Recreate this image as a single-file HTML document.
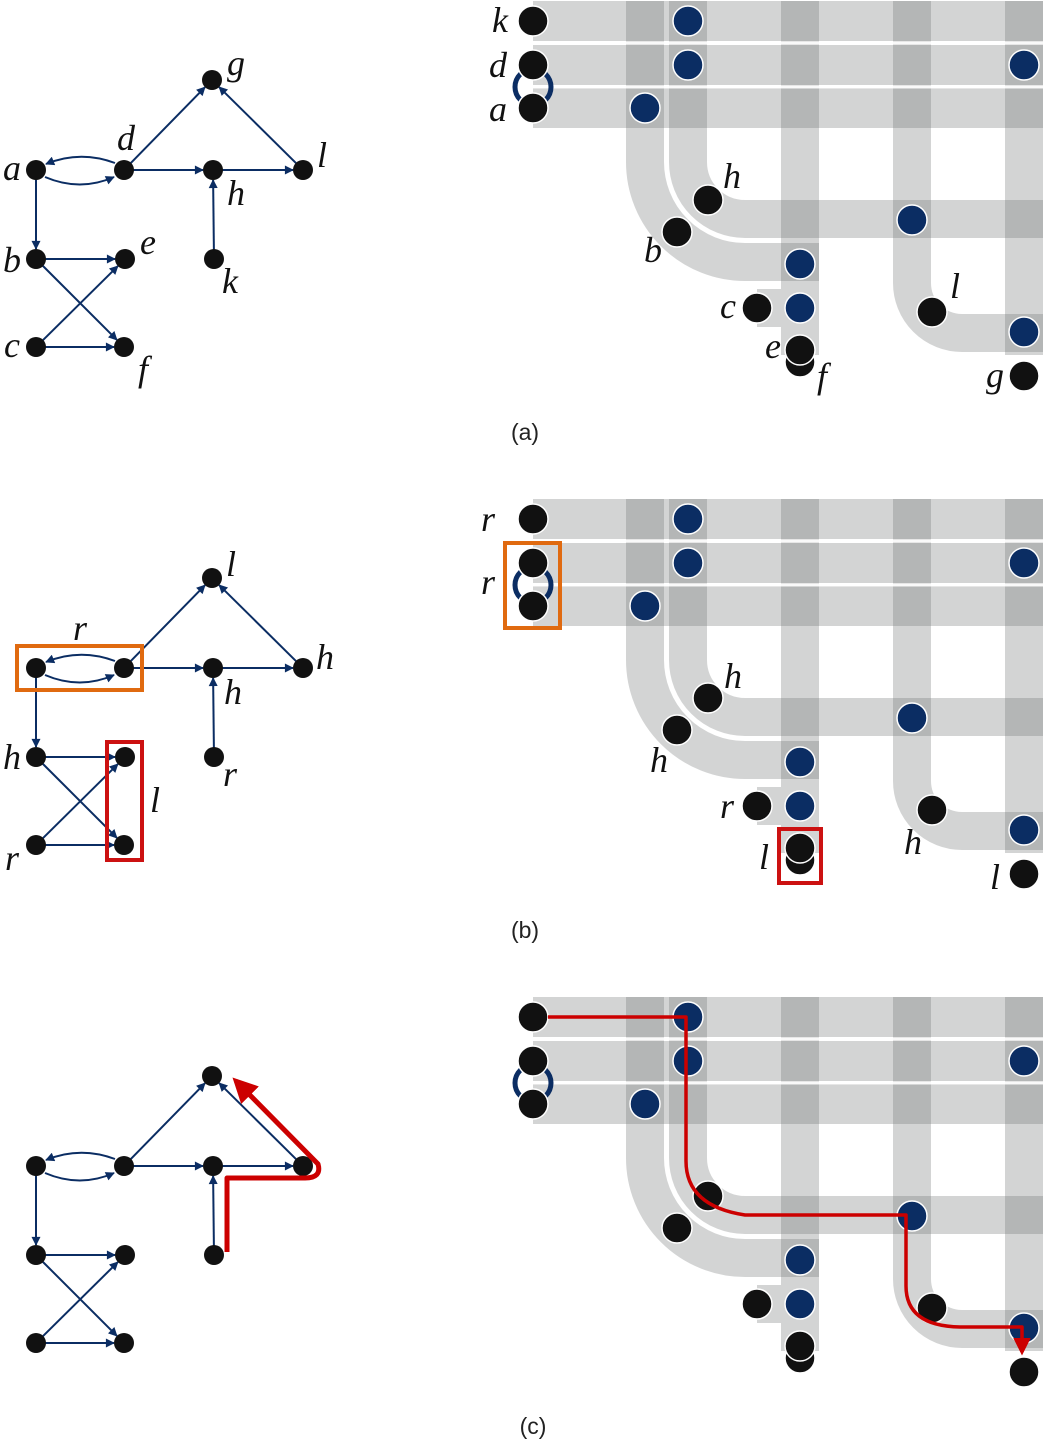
<!DOCTYPE html>
<html><head><meta charset="utf-8"><style>
html,body{margin:0;padding:0;background:#fff;}
svg{display:block;}
.lbl{font-family:"Liberation Serif",serif;font-style:italic;font-size:36px;fill:#111;}
.cap{font-family:"Liberation Sans",sans-serif;font-size:23px;fill:#222;}
</style></head><body>
<svg id="fig" width="1050" height="1451" viewBox="0 0 1050 1451" xmlns="http://www.w3.org/2000/svg">
<defs>
<marker id="arr" viewBox="0 0 10 10" refX="9" refY="5" markerWidth="11" markerHeight="9" orient="auto-start-reverse" markerUnits="userSpaceOnUse"><path d="M0,0 L10,5 L0,10 z" fill="#0b2d63"/></marker>
<marker id="arrR" viewBox="0 0 10 10" refX="8" refY="5" markerWidth="5" markerHeight="5" orient="auto"><path d="M0,0 L10,5 L0,10 z" fill="#cc0000"/></marker>
</defs>
</svg>
<script>
const panelOffsets=[0,498,996];
const captions=["(a)","(b)","(c)"];
const captionX=[525,525,533];
const captionY=[440,938,1434];
const gNodes=[["a",36,170],["d",124,170],["g",212,80],["h",213,170],["l",303,170],["b",36,259],["e",125,259],["k",214,259],["c",36,347],["f",124,347]];
const gEdges=[["d","g"],["d","h"],["h","l"],["l","g"],["k","h"],["a","b"],["b","e"],["b","f"],["c","e"],["c","f"]];
const gLabelsA=[["a",12,180],["d",126,150],["g",236,75],["l",322,167],["h",236,205],["e",148,254],["k",230,293],["b",12,272],["c",12,357],["f",143,381]];
const gLabelsB=[["r",80,640],["l",231,576],["h",325,669],["h",233,704],["h",12,769],["r",230,786],["l",155,812],["r",12,870]];
const rowsY=[21,65,108];
const blueA=[[688,21],[688,65],[1024,65],[645,108],[912,220],[800,264],[800,308],[1024,332]];
const blackA=[[800,362],[533,21],[533,65],[533,108],[708,200],[677,232],[757,308],[800,350],[932,312],[1024,376]];
const rLabelsA=[["k",500,32],["d",498,77],["a",498,121],["h",732,188],["b",653,262],["c",728,318],["e",773,358],["f",822,388],["l",955,298],["g",995,387]];
const rLabelsB=[["r",488,531],["r",488,594],["h",733,688],["h",659,772],["r",727,818],["l",764,869],["h",913,854],["l",995,889]];

const svg=document.getElementById('fig');
const NS="http://www.w3.org/2000/svg";
function mk(tag,attrs,parent){const e=document.createElementNS(NS,tag);for(const k in attrs)e.setAttribute(k,attrs[k]);(parent||svg).appendChild(e);return e;}
function txt(s,x,y,cls,anchor){const t=mk('text',{x:x,y:y,class:cls,'text-anchor':anchor||'start'});t.textContent=s;return t;}

panelOffsets.forEach((dy,pi)=>{
  const g=mk('g',{transform:'translate(0,'+dy+')'});
  
  
  const lg=mk('g',{},g);
  
  
  const pos={};gNodes.forEach(n=>pos[n[0]]=[n[1],n[2]]);
  gEdges.forEach(e=>{
    const [x1,y1]=pos[e[0]],[x2,y2]=pos[e[1]];
    const L=Math.hypot(x2-x1,y2-y1),ux=(x2-x1)/L,uy=(y2-y1)/L;
    const ln=mk('line',{x1:x1+ux*9,y1:y1+uy*9,x2:x2-ux*10,y2:y2-uy*10,stroke:'#0b2d63','stroke-width':2,'marker-end':'url(#arr)'},lg);
    
    
  });
  const c1=mk('path',{d:'M115,163 Q80,150 46,164',fill:'none',stroke:'#0b2d63','stroke-width':2,'marker-end':'url(#arr)'},lg);
  
  
  const c2=mk('path',{d:'M45,177 Q80,192 114,177',fill:'none',stroke:'#0b2d63','stroke-width':2,'marker-end':'url(#arr)'},lg);
  
  
  gNodes.forEach(n=>{
    const c=mk('circle',{cx:n[1],cy:n[2],r:10,fill:'#111'},lg);
    
    
  });
  if(pi===0) gLabelsA.forEach(l=>txt(l[0],l[1],l[2],'lbl','middle'));
  if(pi===1){
    gLabelsB.forEach(l=>txt(l[0],l[1],l[2],'lbl','middle'));
    const ob=mk('rect',{x:17,y:148,width:125,height:44,fill:'none',stroke:'#e06a10','stroke-width':4},lg);
    
    
    const rb=mk('rect',{x:107,y:244,width:35,height:118,fill:'none',stroke:'#cc1111','stroke-width':4},lg);
    
    
  }
  if(pi===2){
    const rp=mk('path',{d:'M227,256 V182 H305 Q322,182 318,168 L236,85',fill:'none',stroke:'#cc0000','stroke-width':5,'stroke-linejoin':'round','marker-end':'url(#arrR)'},lg);
    
    
  }
  const rg=mk('g',{},g);
  
  
  const bc='#6c6f72',op=0.3;
  rowsY.forEach((y,i)=>{
    const r=mk('rect',{x:533,y:y-20,width:510,height:40,fill:bc,'fill-opacity':op},rg);
    
    
  });
  const bands=[
    'M645,128 V162 A100,100 0 0 0 745,262 H819',
    'M688,128 V162 A57,57 0 0 0 745,219 H1043',
    'M800,1 V355',
    'M912,1 V283 A50,50 0 0 0 962,333 H1043',
    'M1024,1 V355'];
  bands.forEach((d,i)=>{
    const p=mk('path',{d:d,fill:'none',stroke:bc,'stroke-opacity':op,'stroke-width':38},rg);
    
    
  });
  [645,688].forEach((x,i)=>{
    const r=mk('rect',{x:x-19,y:1,width:38,height:127,fill:bc,'fill-opacity':op},rg);
    
    
  });
  const cr=mk('rect',{x:757,y:289,width:24,height:38,fill:bc,'fill-opacity':op},rg);
  
  
  [43,87].forEach(y=>mk('line',{x1:533,y1:y,x2:1043,y2:y,stroke:'#fff','stroke-width':3,'stroke-opacity':0.85},rg));
  mk('path',{d:'M666.5,130 V162 A78.5,78.5 0 0 0 745,240.5 H781',fill:'none',stroke:'#fff','stroke-width':3},rg);
  const ring=mk('circle',{cx:533,cy:87,r:18,fill:'none',stroke:'#0b2d63','stroke-width':5},rg);
  
  
  blueA.forEach((p,i)=>{
    const c=mk('circle',{cx:p[0],cy:p[1],r:15,fill:'#0b2d63',stroke:'#fff','stroke-width':1.5},rg);
    
    
  });
  blackA.forEach((p,i)=>{
    const c=mk('circle',{cx:p[0],cy:p[1],r:15,fill:'#111',stroke:'#fff','stroke-width':1.5},rg);
    
    
  });
  if(pi===0) rLabelsA.forEach(l=>txt(l[0],l[1],l[2],'lbl','middle'));
  if(pi===1){
    rLabelsB.forEach(l=>txt(l[0],l[1],l[2],'lbl','middle'));
    const ob=mk('rect',{x:505,y:45,width:55,height:85,fill:'none',stroke:'#e06a10','stroke-width':4},rg);
    
    
    const rb=mk('rect',{x:779,y:331,width:42,height:54,fill:'none',stroke:'#cc1111','stroke-width':4},rg);
    
    
  }
  if(pi===2){
    const rp=mk('path',{d:'M548,21 H686 V165 Q686,210 745,219 H906 V290 Q906,330 960,331 H1022 V356',fill:'none',stroke:'#cc0000','stroke-width':3.5,'stroke-linejoin':'round','marker-end':'url(#arrR)'},rg);
    
    
  }
  const cap=txt(captions[pi],captionX[pi],captionY[pi]-dy,'cap','middle');
  g.appendChild(cap);
  
  
});
</script>
</body></html>
